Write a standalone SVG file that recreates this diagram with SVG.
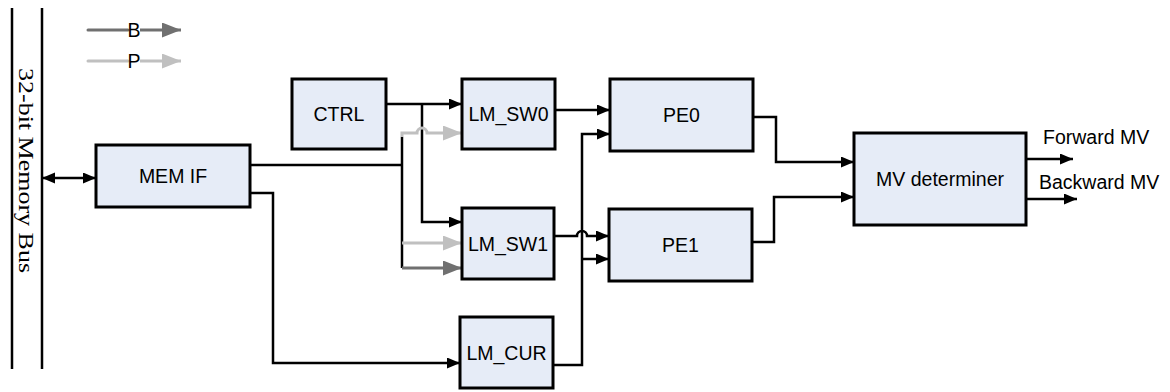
<svg xmlns="http://www.w3.org/2000/svg" width="1170" height="392" viewBox="0 0 1170 392">
<style>
.box{fill:#E6ECF7;stroke:#000;stroke-width:3}
.lbl{font-family:"Liberation Sans",Arial,sans-serif;font-size:19.5px;fill:#000;text-anchor:middle}
.side{font-family:"Liberation Sans",Arial,sans-serif;font-size:19.5px;fill:#000}
.w{fill:none;stroke:#000;stroke-width:2.5}
.wd{fill:none;stroke:#707070;stroke-width:3}
.wl{fill:none;stroke:#C0C0C0;stroke-width:3}
</style>
<defs>
<marker id="ab" markerUnits="userSpaceOnUse" markerWidth="14" markerHeight="12" refX="13" refY="5.5" orient="auto"><path d="M0,0 L13,5.5 L0,11 z" fill="#000"/></marker>
<marker id="abs" markerUnits="userSpaceOnUse" markerWidth="14" markerHeight="12" refX="13" refY="5.5" orient="auto-start-reverse"><path d="M0,0 L13,5.5 L0,11 z" fill="#000"/></marker>
<marker id="ad" markerUnits="userSpaceOnUse" markerWidth="20" markerHeight="16" refX="19" refY="7.5" orient="auto"><path d="M0,0 L19,7.5 L0,15 z" fill="#707070"/></marker>
<marker id="al" markerUnits="userSpaceOnUse" markerWidth="20" markerHeight="16" refX="19" refY="7.5" orient="auto"><path d="M0,0 L19,7.5 L0,15 z" fill="#C0C0C0"/></marker>
</defs>
<g id="bus">
<line x1="12" y1="8" x2="12" y2="369" stroke="#000" stroke-width="2.5"/>
<line x1="42" y1="8" x2="42" y2="369" stroke="#000" stroke-width="2.5"/>
<text transform="translate(19,68) rotate(90)" font-family="'Liberation Serif','Times New Roman',serif" font-size="21" textLength="205" lengthAdjust="spacingAndGlyphs">32-bit Memory Bus</text>
</g>
<g id="legend">
<line x1="88" y1="30" x2="128" y2="30" class="wd" stroke-linecap="round"/>
<line x1="140" y1="30" x2="181" y2="30" class="wd" marker-end="url(#ad)"/>
<text x="134" y="37" class="lbl">B</text>
<line x1="88" y1="61" x2="128" y2="61" class="wl" stroke-linecap="round"/>
<line x1="140" y1="61" x2="181" y2="61" class="wl" marker-end="url(#al)"/>
<text x="134" y="68" class="lbl">P</text>
</g>
<g id="connectors">
<path class="w" d="M42,178 L96,178" marker-start="url(#abs)" marker-end="url(#ab)"/>
<path class="w" d="M386,104 L462,104" marker-end="url(#ab)"/>
<path class="w" d="M422,104 L422,222 L462,222" marker-end="url(#ab)"/>
<path class="w" d="M250,165 L402,165"/>
<path class="w" d="M402,137 L402,268"/>
<path class="wl" d="M402,137 L402,133 L417,133 A5,5 0 0 1 427,133 L462,133" marker-end="url(#al)"/>
<path class="wl" d="M402,243 L462,243" marker-end="url(#al)"/>
<path class="wd" d="M402,268 L462,268" marker-end="url(#ad)"/>
<path class="w" d="M555,110 L610,110" marker-end="url(#ab)"/>
<path class="w" d="M554,236 L577,236 A5,5 0 0 1 587,236 L609,236" marker-end="url(#ab)"/>
<path class="w" d="M250,193 L273,193 L273,363 L460,363" marker-end="url(#ab)"/>
<path class="w" d="M553,365 L582,365 L582,134 L610,134" marker-end="url(#ab)"/>
<path class="w" d="M582,259 L609,259" marker-end="url(#ab)"/>
<path class="w" d="M753,117 L776,117 L776,162 L854,162" marker-end="url(#ab)"/>
<path class="w" d="M752,242 L774,242 L774,197 L854,197" marker-end="url(#ab)"/>
<path class="w" d="M1026,159 L1073,159" marker-end="url(#ab)"/>
<path class="w" d="M1026,199 L1077,199" marker-end="url(#ab)"/>
</g>
<g id="memif"><rect class="box" x="96" y="145" width="154" height="62"/><text class="lbl" x="173" y="183">MEM IF</text></g>
<g id="ctrl"><rect class="box" x="292" y="79" width="94" height="70"/><text class="lbl" x="339" y="121">CTRL</text></g>
<g id="lmsw0"><rect class="box" x="462" y="79" width="93" height="70"/><text class="lbl" x="508.5" y="121">LM_SW0</text></g>
<g id="lmsw1"><rect class="box" x="462" y="208" width="92" height="71"/><text class="lbl" x="508" y="250.5">LM_SW1</text></g>
<g id="lmcur"><rect class="box" x="460" y="317" width="93" height="71"/><text class="lbl" x="506.5" y="359.5">LM_CUR</text></g>
<g id="pe0"><rect class="box" x="610" y="79" width="143" height="72"/><text class="lbl" x="681.5" y="122">PE0</text></g>
<g id="pe1"><rect class="box" x="609" y="209" width="143" height="72"/><text class="lbl" x="680.5" y="252">PE1</text></g>
<g id="mvdet"><rect class="box" x="854" y="133" width="172" height="92"/><text class="lbl" x="940" y="186" textLength="128">MV determiner</text></g>
<g id="outlabels">
<text class="side" x="1043" y="144">Forward MV</text>
<text class="side" x="1039" y="189">Backward MV</text>
</g>
</svg>
